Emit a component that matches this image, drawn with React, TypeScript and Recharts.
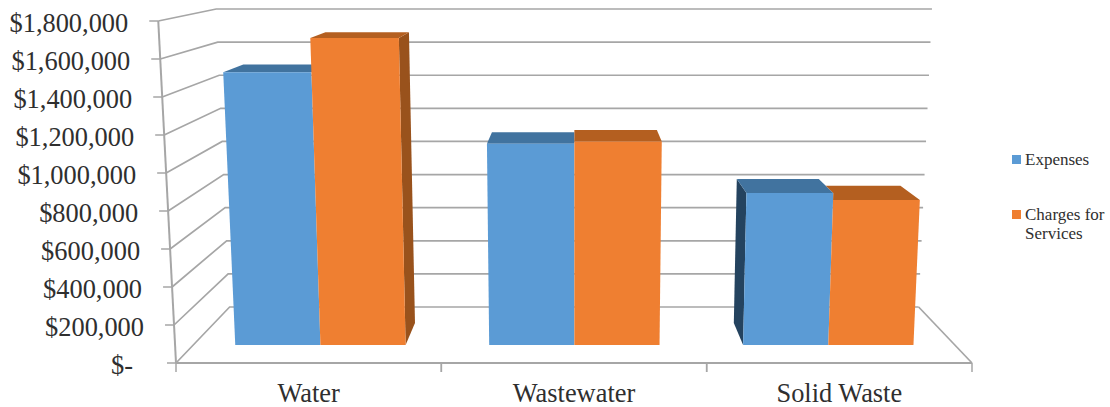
import React from 'react';
import { ComposedChart, Bar, XAxis, YAxis, Legend } from 'recharts';

const categories = ['Water', 'Wastewater', 'Solid Waste'];
const expenses = [1498000, 1105000, 835000];
const charges = [1685000, 1118000, 796000];
const yTicks = [0, 200000, 400000, 600000, 800000, 1000000, 1200000, 1400000, 1600000, 1800000];
const seriesNames = ['Expenses', 'Charges for Services'];

const data = categories.map((name, i) => ({ name, expenses: expenses[i], charges: charges[i] }));

const W = 1110, H = 407;
const M = { top: 21, right: 138, bottom: 44, left: 176 };
const BASE = H - M.bottom;
const PLOT_H = BASE - M.top;
const MAX = yTicks[yTicks.length - 1];
const CX = 575;
const T_FRONT = 0.32, T_BACK = 0.714;
const GRID = '#a6a6a6';
const SERIF = '"Liberation Serif", serif';
const TEXT = '#2f2f2f';
const faces = {
  expenses: { front: '#5b9bd5', top: '#41739f', side: '#24435f' },
  charges: { front: '#ef7f31', top: '#b45f20', side: '#99521c' },
};

// Oblique projection from the front plane (xf, height h above floor) to depth t
function P(xf: number, h: number, t: number) {
  const hh = h * (1 - 0.1287 * t);
  return {
    x: CX + (xf - CX) * (1 - 0.1344 * t) * (1 + 0.00013 * hh),
    y: BASE - 56 * t - hh,
  };
}
const pts = (a: { x: number; y: number }[]) => a.map((p) => `${p.x},${p.y}`).join(' ');

function YTick(props: any) {
  const { y, payload } = props;
  const v = payload.value as number;
  const h = BASE - y;
  const front = P(M.left, h, 0);
  const backL = P(M.left, h, 1);
  const backR = P(M.left + 796, h, 1);
  const next = P(M.left, h + PLOT_H * (200000 / MAX), 0);
  const label = v === 0 ? '$-' : '$' + v.toLocaleString('en-US');
  return (
    <g>
      <polyline points={pts([front, backL, backR])} fill="none" stroke={GRID} strokeWidth={1.7} />
      {v < MAX && <line x1={front.x} y1={front.y} x2={next.x} y2={next.y} stroke={GRID} strokeWidth={2} />}
      <line x1={front.x - 9} y1={front.y} x2={front.x} y2={front.y} stroke={GRID} strokeWidth={1.5} />
      {v === 0 && (
        <line x1={backR.x} y1={backR.y} x2={M.left + 796} y2={BASE} stroke={GRID} strokeWidth={1.7} />
      )}
      <text
        x={front.x - (v === 0 ? 43 : 30)}
        y={front.y + 11}
        textAnchor="end"
        fontFamily={SERIF}
        fontSize={26.4}
        fill={TEXT}
      >
        {label}
      </text>
    </g>
  );
}

function XTick(props: any) {
  const { x, payload, bandWidth } = props;
  return (
    <g>
      <line x1={x - bandWidth / 2} y1={BASE} x2={x - bandWidth / 2} y2={BASE + 9} stroke={GRID} strokeWidth={1.5} />
      <line x1={x + bandWidth / 2} y1={BASE} x2={x + bandWidth / 2} y2={BASE + 9} stroke={GRID} strokeWidth={1.5} />
      <text x={x} y={BASE + 39} textAnchor="middle" fontFamily={SERIF} fontSize={26.4} fill={TEXT}>
        {payload.value}
      </text>
    </g>
  );
}

function Box3D(props: any) {
  const { x, width, height, payload, which } = props;
  const c = faces[which as 'expenses' | 'charges'];
  const r = x + width;
  const h = height;
  const fl = P(x, h, T_FRONT), fr = P(r, h, T_FRONT);
  const bl = P(x, h, T_BACK), br = P(r, h, T_BACK);
  const fl0 = P(x, 0, T_FRONT), fr0 = P(r, 0, T_FRONT);
  const bl0 = P(x, 0, T_BACK), br0 = P(r, 0, T_BACK);

  let topFace = [fl, bl, br, fr];
  if (which === 'charges' && payload.expenses > payload.charges && x > CX) {
    // the taller neighbouring box hides the inner part of this lid
    const hN = (h * payload.expenses) / payload.charges;
    const a = P(x, hN, T_FRONT), b = P(x, hN, T_BACK);
    const k = (bl.y - a.y) / (b.y - a.y);
    topFace = [fl, a, { x: a.x + (b.x - a.x) * k, y: bl.y }, br, fr];
  }
  return (
    <g>
      {which === 'expenses' && x > CX && <polygon points={pts([fl, bl, bl0, fl0])} fill={c.side} />}
      {which === 'charges' && r < CX && <polygon points={pts([fr, br, br0, fr0])} fill={c.side} />}
      <polygon points={pts(topFace)} fill={c.top} />
      <polygon points={pts([fl, fr, fr0, fl0])} fill={c.front} />
    </g>
  );
}

function LegendBox(props: any) {
  const items = props.payload || [];
  return (
    <div style={{ fontFamily: SERIF, fontSize: 17, lineHeight: '19px', color: TEXT }}>
      {items.map((it: any, i: number) => (
        <div key={it.value} style={{ position: 'absolute', left: 0, top: i === 0 ? 0 : 55, width: 98 }}>
          <span style={{ position: 'absolute', left: 0, top: 4.5, width: 9, height: 9, background: it.color }} />
          <span style={{ position: 'absolute', left: 13, top: 0, width: 85, display: 'block' }}>{it.value}</span>
        </div>
      ))}
    </div>
  );
}

export default function App() {
  return (
    <div style={{ position: 'absolute', left: 0, top: 0, width: W, height: H, background: '#fff' }}>
      <ComposedChart
        width={W}
        height={H}
        data={data}
        margin={{ top: M.top, right: M.right, bottom: 0, left: 0 }}
        barCategoryGap={44}
        barGap={0}
      >
        <YAxis
          type="number"
          domain={[0, MAX]}
          ticks={yTicks}
          interval={0}
          width={M.left}
          axisLine={false}
          tickLine={false}
          tick={<YTick />}
        />
        <XAxis
          dataKey="name"
          height={M.bottom}
          axisLine={{ stroke: GRID, strokeWidth: 2 }}
          tickLine={false}
          interval={0}
          tick={(p: any) => <XTick {...p} bandWidth={796 / categories.length} />}
        />
        <Legend
          layout="vertical"
          align="center"
          verticalAlign="middle"
          itemSorter={null}
          wrapperStyle={{ position: 'absolute', left: 1012, top: 150, width: 98, height: 110 }}
          content={<LegendBox />}
        />
        <Bar
          dataKey="expenses"
          name={seriesNames[0]}
          fill={faces.expenses.front}
          isAnimationActive={false}
          zIndex={2000}
          shape={(p: any) => <Box3D {...p} which="expenses" />}
        />
        <Bar
          dataKey="charges"
          name={seriesNames[1]}
          fill={faces.charges.front}
          isAnimationActive={false}
          zIndex={2001}
          shape={(p: any) => <Box3D {...p} which="charges" />}
        />
      </ComposedChart>
    </div>
  );
}
